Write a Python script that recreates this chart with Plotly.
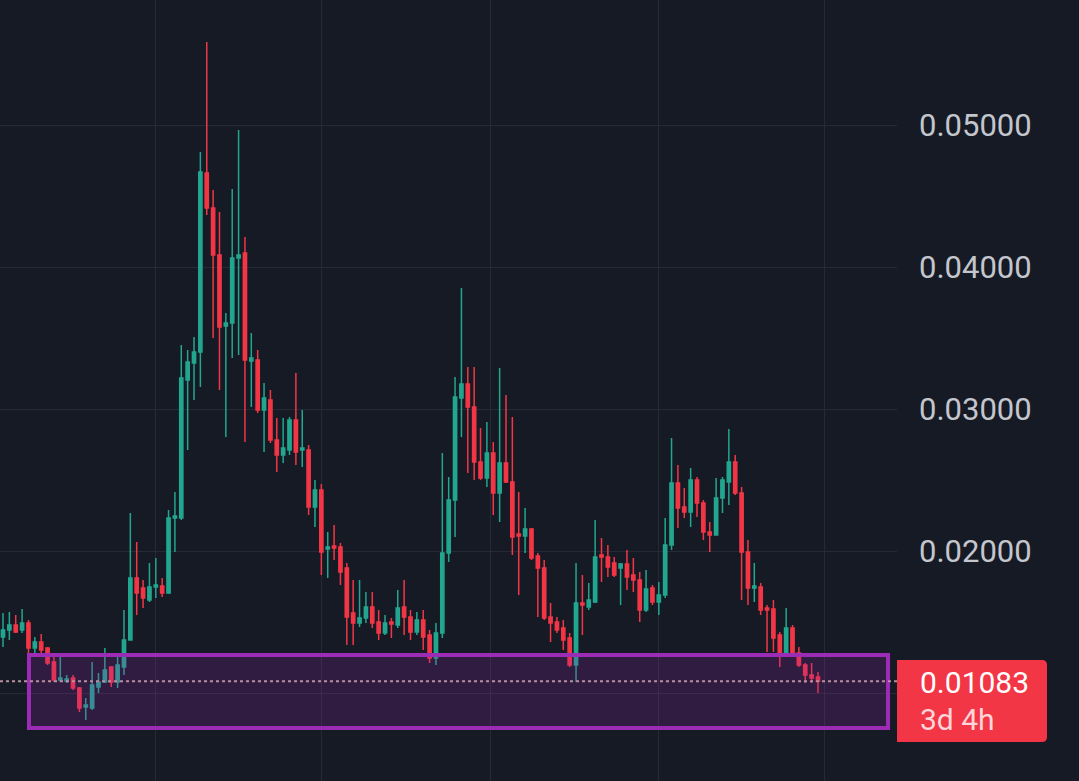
import plotly.graph_objects as go

# ---- data (price values) ----
candle_index = list(range(129))

open_ = [0.01394, 0.01444, 0.01479, 0.01444, 0.01493, 0.01317, 0.01359, 0.01317, 0.01218, 0.01092,
         0.01084, 0.01106, 0.01035, 0.00901, 0.00894, 0.01042, 0.01077, 0.01183, 0.01077, 0.01183,
         0.01373, 0.01810, 0.01739, 0.01655, 0.01747, 0.01754, 0.01704, 0.02232, 0.02232, 0.03204,
         0.03324, 0.03401, 0.04662, 0.04415, 0.04085, 0.03585, 0.03606, 0.04063, 0.04099, 0.03338,
         0.03345, 0.02993, 0.03063, 0.02782, 0.02676, 0.02711, 0.02923, 0.02711, 0.02711, 0.02310,
         0.02430, 0.02014, 0.02035, 0.02028, 0.01880, 0.01563, 0.01493, 0.01528, 0.01606, 0.01500,
         0.01422, 0.01500, 0.01479, 0.01606, 0.01535, 0.01430, 0.01514, 0.01408, 0.01246, 0.01422,
         0.01986, 0.02359, 0.03077, 0.03176, 0.03014, 0.02627, 0.02514, 0.02690, 0.02408, 0.02620,
         0.02486, 0.02120, 0.02106, 0.02155, 0.01965, 0.01880, 0.01535, 0.01500, 0.01458, 0.01387,
         0.01197, 0.01634, 0.01606, 0.01641, 0.01972, 0.01958, 0.01915, 0.01880, 0.01908, 0.01831,
         0.01796, 0.01584, 0.01739, 0.01641, 0.01690, 0.02042, 0.02479, 0.02310, 0.02275, 0.02500,
         0.02338, 0.02134, 0.02113, 0.02373, 0.02486, 0.02627, 0.02408, 0.01993, 0.01739, 0.01747,
         0.01599, 0.01591, 0.01408, 0.01282, 0.01458, 0.01282, 0.01197, 0.01127, 0.01113]

high = [0.01563, 0.01570, 0.01549, 0.01591, 0.01514, 0.01394, 0.01415, 0.01324, 0.01254, 0.01254,
        0.01127, 0.01127, 0.01042, 0.00965, 0.01218, 0.01141, 0.01317, 0.01183, 0.01282, 0.01584,
        0.02268, 0.02063, 0.01796, 0.01915, 0.01951, 0.01810, 0.02289, 0.02415, 0.03451, 0.03416,
        0.03507, 0.04810, 0.05584, 0.04542, 0.04387, 0.03676, 0.04549, 0.04965, 0.04211, 0.03535,
        0.03416, 0.03183, 0.03134, 0.02937, 0.02937, 0.02944, 0.03254, 0.02993, 0.02746, 0.02500,
        0.02472, 0.02134, 0.02183, 0.02056, 0.01915, 0.01796, 0.01796, 0.01711, 0.01711, 0.01584,
        0.01549, 0.01528, 0.01725, 0.01796, 0.01584, 0.01570, 0.01584, 0.01444, 0.01493, 0.02690,
        0.02521, 0.03225, 0.03852, 0.03296, 0.03296, 0.02866, 0.02909, 0.02768, 0.03289, 0.03099,
        0.02944, 0.02415, 0.02303, 0.02162, 0.01986, 0.01937, 0.01634, 0.01535, 0.01514, 0.01422,
        0.01915, 0.01831, 0.01775, 0.02218, 0.02092, 0.02042, 0.01958, 0.01915, 0.02007, 0.01951,
        0.01852, 0.01866, 0.01761, 0.01782, 0.02232, 0.02796, 0.02606, 0.02444, 0.02585, 0.02521,
        0.02359, 0.02204, 0.02514, 0.02521, 0.02859, 0.02676, 0.02451, 0.02078, 0.01915, 0.01775,
        0.01620, 0.01655, 0.01430, 0.01599, 0.01479, 0.01324, 0.01211, 0.01211, 0.01148]

low = [0.01324, 0.01373, 0.01422, 0.01422, 0.01232, 0.01254, 0.01282, 0.01197, 0.01077, 0.01077,
       0.01070, 0.01021, 0.00866, 0.00810, 0.00880, 0.01000, 0.01070, 0.01042, 0.01035, 0.01127,
       0.01373, 0.01549, 0.01599, 0.01641, 0.01669, 0.01676, 0.01697, 0.01993, 0.02218, 0.02711,
       0.03063, 0.03155, 0.04366, 0.03500, 0.03134, 0.02803, 0.03359, 0.03380, 0.02768, 0.03014,
       0.02972, 0.02697, 0.02761, 0.02556, 0.02620, 0.02676, 0.02606, 0.02592, 0.02254, 0.02169,
       0.01831, 0.01810, 0.01937, 0.01761, 0.01338, 0.01338, 0.01465, 0.01493, 0.01458, 0.01373,
       0.01408, 0.01387, 0.01458, 0.01408, 0.01373, 0.01408, 0.01303, 0.01211, 0.01197, 0.01387,
       0.01922, 0.02099, 0.02803, 0.02549, 0.02500, 0.02500, 0.02451, 0.02254, 0.02204, 0.02479,
       0.01972, 0.01690, 0.01986, 0.01937, 0.01535, 0.01514, 0.01359, 0.01422, 0.01303, 0.01183,
       0.01077, 0.01408, 0.01584, 0.01634, 0.01782, 0.01817, 0.01817, 0.01620, 0.01725, 0.01711,
       0.01500, 0.01570, 0.01620, 0.01549, 0.01669, 0.02007, 0.02162, 0.02232, 0.02169, 0.02240,
       0.02078, 0.01993, 0.02113, 0.02268, 0.02324, 0.02394, 0.01655, 0.01620, 0.01641, 0.01549,
       0.01289, 0.01289, 0.01183, 0.01282, 0.01268, 0.01183, 0.01070, 0.01070, 0.01000]

close = [0.01444, 0.01479, 0.01430, 0.01493, 0.01317, 0.01359, 0.01303, 0.01211, 0.01092, 0.01106,
         0.01099, 0.01035, 0.00894, 0.00916, 0.01056, 0.01077, 0.01162, 0.01077, 0.01197, 0.01373,
         0.01810, 0.01704, 0.01669, 0.01747, 0.01761, 0.01704, 0.02232, 0.02247, 0.03218, 0.03331,
         0.03401, 0.04669, 0.04415, 0.04085, 0.03577, 0.03606, 0.04063, 0.04085, 0.03345, 0.03359,
         0.02993, 0.03077, 0.02782, 0.02676, 0.02725, 0.02923, 0.02697, 0.02725, 0.02310, 0.02430,
         0.01993, 0.02028, 0.02021, 0.01852, 0.01535, 0.01493, 0.01528, 0.01606, 0.01493, 0.01422,
         0.01493, 0.01486, 0.01599, 0.01535, 0.01430, 0.01514, 0.01394, 0.01246, 0.01422, 0.01986,
         0.02359, 0.03084, 0.03176, 0.03014, 0.02627, 0.02514, 0.02690, 0.02408, 0.02620, 0.02486,
         0.02099, 0.02106, 0.02155, 0.01951, 0.01880, 0.01528, 0.01493, 0.01444, 0.01373, 0.01197,
         0.01634, 0.01620, 0.01655, 0.01958, 0.01958, 0.01887, 0.01831, 0.01908, 0.01817, 0.01796,
         0.01584, 0.01732, 0.01641, 0.01690, 0.02042, 0.02479, 0.02303, 0.02275, 0.02500, 0.02338,
         0.02134, 0.02113, 0.02373, 0.02500, 0.02627, 0.02408, 0.01993, 0.01739, 0.01754, 0.01584,
         0.01584, 0.01387, 0.01282, 0.01458, 0.01282, 0.01197, 0.01127, 0.01106, 0.01083]

y_tick_values = [0.01, 0.02, 0.03, 0.04, 0.05]
y_tick_labels = ["", "0.02000", "0.03000", "0.04000", "0.05000"]
x_grid_positions = [24.0, 50.1, 76.5, 102.9, 129.1]

zone_low = 0.007535
zone_high = 0.012676
last_price = 0.01083
last_price_label = "0.01083"
countdown_label = "3d 4h"

# ---- styling ----
BG = "#161a25"
GRID = "#262a35"
UP = "#22a68f"
DOWN = "#f23645"
TEXT = "#c3c6cd"
FONT = "Roboto"

fig = go.Figure()
fig.add_trace(go.Candlestick(
    x=candle_index, open=open_, high=high, low=low, close=close,
    increasing=dict(line=dict(color=UP, width=1.5), fillcolor=UP),
    decreasing=dict(line=dict(color=DOWN, width=1.5), fillcolor=DOWN),
    hoverinfo="skip", showlegend=False,
))

# support zone
fig.add_shape(type="rect", xref="x", yref="y",
              x0=4.08, x1=139.0, y0=zone_low, y1=zone_high,
              line=dict(color="#9c2bb5", width=4),
              fillcolor="rgba(156,39,176,0.20)", layer="above")

# last price dotted line
fig.add_shape(type="line", xref="paper", yref="y",
              x0=0, x1=1, y0=last_price, y1=last_price,
              line=dict(color="#b98f9f", width=2, dash="dot"), layer="above")

# price label box (rounded corners)
bx0, bx1 = 1.0, 1047 / 897
by0, by1 = 1 - 742 / 781, 1 - 660 / 781
rx, ry = 5 / 897, 5 / 781
box_path = (
    f"M {bx0},{by0} L {bx1 - rx},{by0} Q {bx1},{by0} {bx1},{by0 + ry} "
    f"L {bx1},{by1 - ry} Q {bx1},{by1} {bx1 - rx},{by1} L {bx0},{by1} Z"
)
fig.add_shape(type="path", xref="paper", yref="paper", path=box_path,
              line=dict(width=0), fillcolor=DOWN, layer="above")

fig.add_annotation(xref="paper", yref="paper", x=919 / 897, y=1 - 682 / 781,
                   xanchor="left", yanchor="middle", showarrow=False, borderpad=0,
                   text=last_price_label, font=dict(family=FONT, size=30, color="#ffffff"))
fig.add_annotation(xref="paper", yref="paper", x=919 / 897, y=1 - 719 / 781,
                   xanchor="left", yanchor="middle", showarrow=False, borderpad=0,
                   text=countdown_label, font=dict(family=FONT, size=30, color="#ffd5d9"))

fig.update_layout(
    width=1079, height=781,
    margin=dict(l=0, r=182, t=0, b=0),
    paper_bgcolor=BG, plot_bgcolor=BG,
    showlegend=False, hovermode=False,
    boxgap=0.28,
    xaxis=dict(range=[-0.471, 140.41], rangeslider=dict(visible=False),
               showticklabels=False, ticks="", tickvals=x_grid_positions,
               showgrid=True, gridcolor=GRID, gridwidth=1, zeroline=False, showline=False),
    yaxis=dict(range=[0.003803, 0.058803], side="right",
               tickvals=y_tick_values, ticktext=y_tick_labels,
               showgrid=True, gridcolor=GRID, gridwidth=1, zeroline=False, showline=False,
               ticks="", ticklabelstandoff=21,
               tickfont=dict(family=FONT, size=31, color=TEXT)),
)

fig.write_html(
    "out.html",
    config={"displayModeBar": False},
    post_script="document.body.style.margin='0';document.body.style.background='#161a25';",
)
